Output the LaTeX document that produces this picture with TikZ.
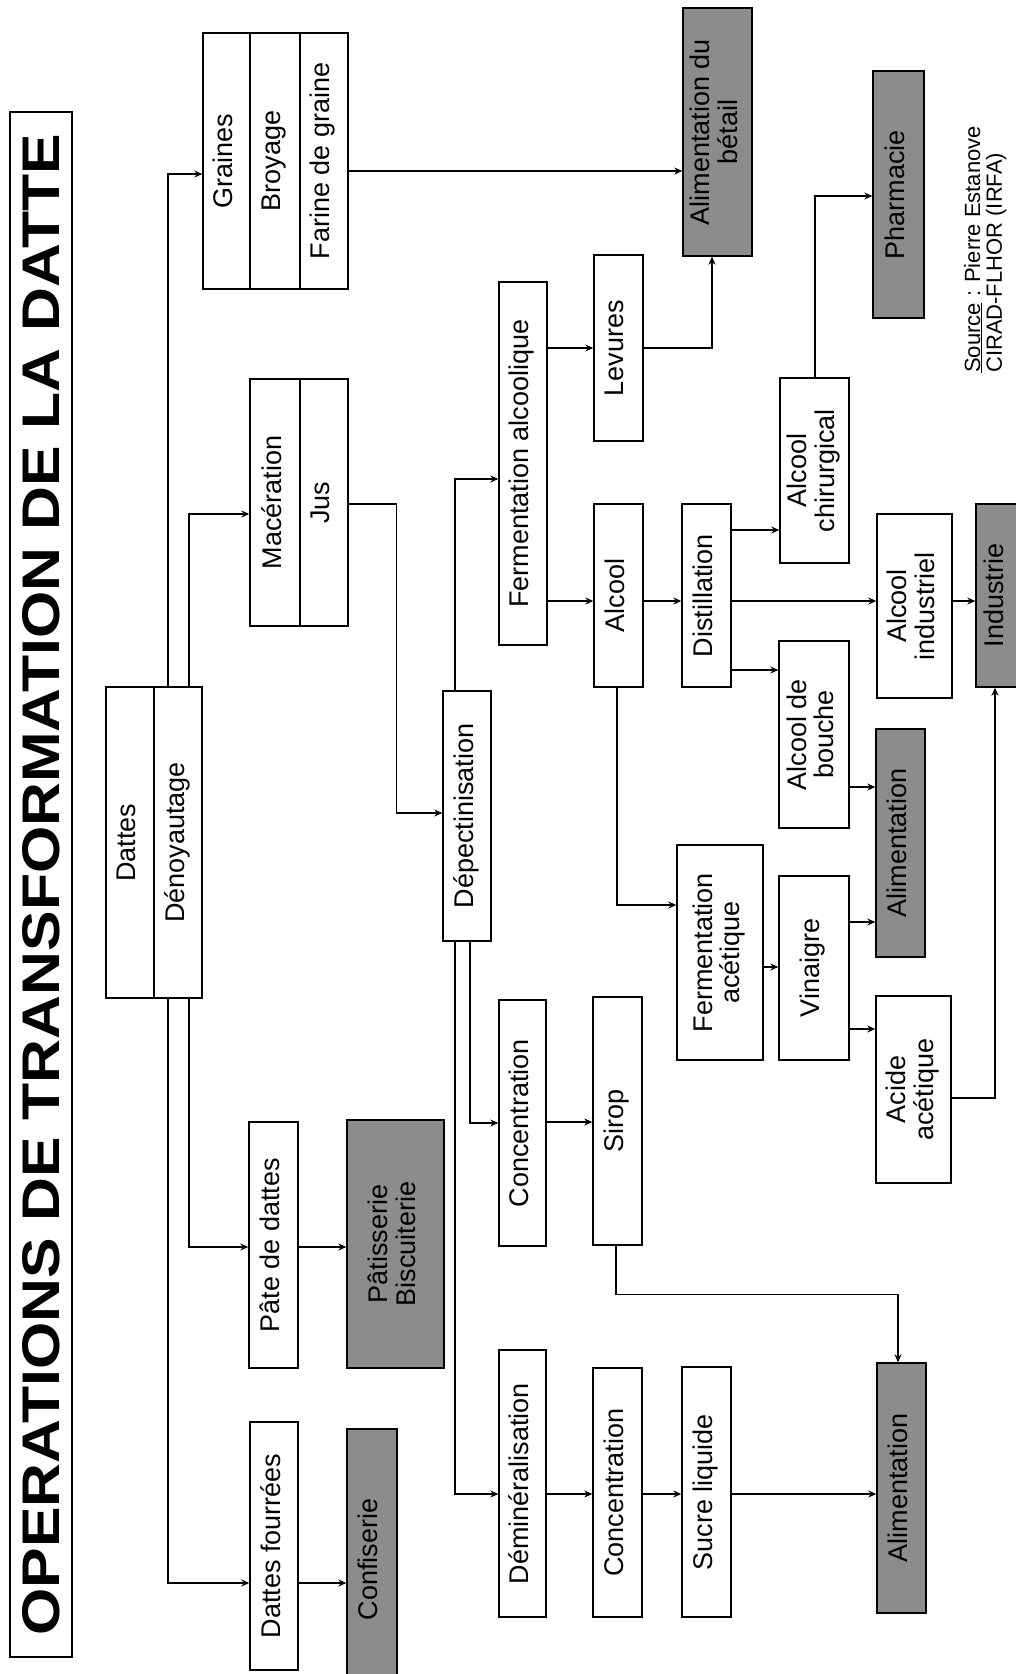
\documentclass[tikz,border=0pt]{standalone}
\usepackage{fontspec}
\setmainfont{Liberation Sans}
\usepackage{graphicx}
\usepackage{tikz}
\usetikzlibrary{arrows.meta,positioning,calc}

% 縦書き（90度回転）のテキスト
\newcommand{\vtxt}[1]{\rotatebox{90}{\begin{tabular}{@{}c@{}}#1\end{tabular}}}

\tikzset{
  etape/.style={draw,line width=1.4pt,inner sep=0pt,font=\fontsize{27}{26}\selectfont},
  produit/.style={etape,fill=black!45},
  fleche/.style={line width=1.1pt,-{Stealth[length=8pt,width=7pt]}}
}

\begin{document}
\begin{tikzpicture}[x=1pt,y=-1pt]
  \useasboundingbox (0,0) rectangle (1016,1674);

  % タイトル
  \node[draw,line width=1.4pt,inner sep=0pt,minimum width=62pt,minimum height=1545pt] (titre) at (41,884.5)
    {\rotatebox{90}{\resizebox{1501pt}{37pt}{\bfseries OPERATIONS DE TRANSFORMATION DE LA DATTE}}};

  % 出発点：Dattes / Dénoyautage
  \node[etape,minimum width=48pt,minimum height=311pt] (dattes) at (130,842.5) {\vtxt{Dattes}};
  \node[etape,minimum width=48pt,minimum height=311pt] (denoy) at (178,842.5) {\vtxt{Dénoyautage}};

  % 種子の系列
  \node[etape,minimum width=47pt,minimum height=256pt] (graines) at (226.5,161) {\vtxt{Graines}};
  \node[etape,minimum width=50pt,minimum height=256pt] (broyage) at (275,161) {\vtxt{Broyage}};
  \node[etape,minimum width=48pt,minimum height=256pt] (farine) at (324,161) {\vtxt{Farine de graine}};

  % 浸漬と果汁
  \node[etape,minimum width=50pt,minimum height=247pt] (maceration) at (275,502.5) {\vtxt{Macération}};
  \node[etape,minimum width=48pt,minimum height=247pt] (jus) at (324,502.5) {\vtxt{Jus}};

  % ペーストと詰め物
  \node[etape,minimum width=49pt,minimum height=246pt] (pate) at (273.5,1245) {\vtxt{Pâte de dattes}};
  \node[produit,minimum width=97pt,minimum height=248pt] (patis) at (395.5,1244) {\vtxt{Pâtisserie\\Biscuiterie}};
  \node[etape,minimum width=48pt,minimum height=248pt] (fourrees) at (274,1546) {\vtxt{Dattes fourrées}};
  \node[produit,minimum width=50pt,minimum height=261pt] (confis) at (372,1559.5) {\vtxt{Confiserie}};

  % ペクチン除去
  \node[etape,minimum width=48pt,minimum height=250pt] (depect) at (467,816) {\vtxt{Dépectinisation}};

  % アルコール発酵の系列
  \node[etape,minimum width=48pt,minimum height=363pt] (fermalc) at (523,463.5) {\vtxt{Fermentation alcoolique}};
  \node[etape,minimum width=49pt,minimum height=186pt] (levures) at (618.5,348) {\vtxt{Levures}};
  \node[produit,minimum width=69pt,minimum height=248pt] (betail) at (717.5,132) {\vtxt{Alimentation du\\bétail}};
  \node[etape,minimum width=49pt,minimum height=183pt] (alcool) at (618.5,595.5) {\vtxt{Alcool}};
  \node[etape,minimum width=49pt,minimum height=183pt] (distil) at (706.5,595.5) {\vtxt{Distillation}};
  \node[etape,minimum width=69pt,minimum height=185pt] (chir) at (814.5,470.5) {\vtxt{Alcool\\chirurgical}};
  \node[produit,minimum width=51pt,minimum height=247pt] (pharma) at (898.5,194.5) {\vtxt{Pharmacie}};
  \node[etape,minimum width=75pt,minimum height=184pt] (indus) at (914.5,606) {\vtxt{Alcool\\industriel}};
  \node[produit,minimum width=43pt,minimum height=183pt] (industrie) at (997.5,595.5) {\vtxt{Industrie}};
  \node[etape,minimum width=70pt,minimum height=187pt] (bouche) at (814,734.5) {\vtxt{Alcool de\\bouche}};
  \node[produit,minimum width=49pt,minimum height=228pt] (alimmid) at (900.5,843) {\vtxt{Alimentation}};

  % 酢酸発酵の系列
  \node[etape,minimum width=86pt,minimum height=215pt] (fermac) at (720,952.5) {\vtxt{Fermentation\\acétique}};
  \node[etape,minimum width=70pt,minimum height=184pt] (vinaigre) at (814,968) {\vtxt{Vinaigre}};
  \node[etape,minimum width=75pt,minimum height=187pt] (acide) at (913.5,1089.5) {\vtxt{Acide\\acétique}};

  % 濃縮・シロップ・液糖の系列
  \node[etape,minimum width=47pt,minimum height=246pt] (concA) at (522.5,1123) {\vtxt{Concentration}};
  \node[etape,minimum width=49pt,minimum height=248pt] (sirop) at (617.5,1121) {\vtxt{Sirop}};
  \node[etape,minimum width=47pt,minimum height=267pt] (demin) at (522.5,1483.5) {\vtxt{Déminéralisation}};
  \node[etape,minimum width=49pt,minimum height=249pt] (concB) at (617.5,1492.5) {\vtxt{Concentration}};
  \node[etape,minimum width=49pt,minimum height=250pt] (sucre) at (706.5,1492) {\vtxt{Sucre liquide}};
  \node[produit,minimum width=49pt,minimum height=250pt] (alimbas) at (901.5,1488) {\vtxt{Alimentation}};

  % 出典
  \node[inner sep=0pt,anchor=south,font=\fontsize{22}{20}\selectfont] (source) at (986,373)
    {\rotatebox{90}{\begin{tabular}{@{}l@{}}\underline{Source} : Pierre Estanove\\CIRAD-FLHOR (IRFA)\end{tabular}}};

  % Dattes からの矢印
  \draw[fleche] (dattes.north -| 168,0) |- (graines.west |- 0,174);
  \draw[fleche] (denoy.north -| 189,0) |- (maceration.west |- 0,514);
  \draw[fleche] (denoy.south -| 189,0) |- (pate.west |- 0,1247);
  \draw[fleche] (dattes.south -| 168,0) |- (fourrees.west |- 0,1583);
  \draw[fleche] (pate.east |- 0,1247) -- (patis.west |- 0,1247);
  \draw[fleche] (fourrees.east |- 0,1583) -- (confis.west |- 0,1583);
  \draw[fleche] (farine.east |- 0,171) -- (betail.west |- 0,171);
  \draw[fleche] (jus.east |- 0,504) -- ++(48,0) |- (depect.west |- 0,813);

  % Dépectinisation からの矢印
  \draw[fleche] (depect.north -| 455,0) |- (fermalc.west |- 0,479);
  \draw[fleche] (depect.south -| 470,0) |- (concA.west |- 0,1123);
  \draw[fleche] (depect.south -| 455,0) |- (demin.west |- 0,1494);

  % 発酵と蒸留
  \draw[fleche] (fermalc.east |- 0,348) -- (levures.west |- 0,348);
  \draw[fleche] (levures.east |- 0,348) -| (betail.south -| 712,0);
  \draw[fleche] (fermalc.east |- 0,601) -- (alcool.west |- 0,601);
  \draw[fleche] (alcool.east |- 0,601) -- (distil.west |- 0,601);
  \draw[fleche] (distil.east |- 0,530) -- (chir.west |- 0,530);
  \draw[fleche] (distil.east |- 0,601) -- (indus.west |- 0,601);
  \draw[fleche] (distil.east |- 0,670) -- (bouche.west |- 0,670);
  \draw[fleche] (indus.east |- 0,601) -- (industrie.west |- 0,601);
  \draw[fleche] (chir.north -| 815,0) |- (pharma.west |- 0,196);
  \draw[fleche] (bouche.east |- 0,787) -- (alimmid.west |- 0,787);

  % 酢酸発酵
  \draw[fleche] (alcool.south -| 617,0) |- (fermac.west |- 0,905);
  \draw[fleche] (fermac.east |- 0,967) -- (vinaigre.west |- 0,967);
  \draw[fleche] (vinaigre.east |- 0,922) -- (alimmid.west |- 0,922);
  \draw[fleche] (vinaigre.east |- 0,1029) -- (acide.west |- 0,1029);
  \draw[fleche] (acide.east |- 0,1098) -| (industrie.south -| 995,0);

  % 濃縮と液糖
  \draw[fleche] (concA.east |- 0,1122) -- (sirop.west |- 0,1122);
  \draw[fleche] (sirop.south -| 616,0) -- ++(0,49) -| (alimbas.north -| 898,0);
  \draw[fleche] (demin.east |- 0,1494) -- (concB.west |- 0,1494);
  \draw[fleche] (concB.east |- 0,1494) -- (sucre.west |- 0,1494);
  \draw[fleche] (sucre.east |- 0,1494) -- (alimbas.west |- 0,1494);
\end{tikzpicture}
\end{document}
